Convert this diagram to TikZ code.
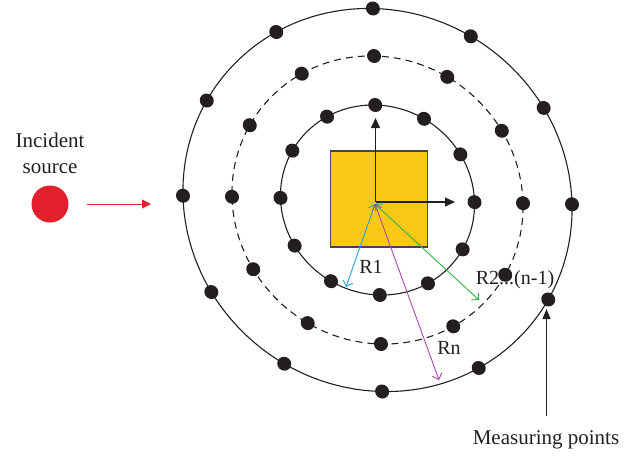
\documentclass[tikz,border=0pt]{standalone}
\usepackage{fontspec}
\setmainfont{Liberation Serif}
\usetikzlibrary{arrows.meta}
\definecolor{srcred}{RGB}{228,32,44}
\definecolor{boxyellow}{RGB}{252,200,22}
\definecolor{boxedge}{RGB}{70,70,70}
\definecolor{rblue}{RGB}{40,160,220}
\definecolor{rgreen}{RGB}{50,175,75}
\definecolor{rpurple}{RGB}{160,75,165}
\definecolor{ink}{RGB}{35,31,32}
\tikzset{
  ring/.style={draw=ink, line width=1.1pt},
  dashring/.style={ring, dash pattern=on 7pt off 5pt},
  mdot/.style={fill=ink},
  axis/.style={draw=ink, line width=1.2pt, -{Triangle[length=10pt,width=9pt]}},
  radius arrow/.style={line width=0.9pt, {Straight Barb[length=5pt,width=10pt]}-{Straight Barb[length=5pt,width=10pt]}},
  lbl/.style={text=ink, font=\fontsize{20}{24}\selectfont, inner sep=0pt},
  bigl/.style={text=ink, font=\fontsize{21}{26}\selectfont, inner sep=0pt, align=center}
}
\begin{document}
\begin{tikzpicture}[x=1pt,y=-1pt]
\useasboundingbox (0,0) rectangle (636,458);
% rings with measuring points (slightly skewed as in the scan)
\begin{scope}[shift={(377.5,200)}, cm={1,-0.022,-0.024,1,(0,0)}]
  \draw[ring] (0,0) ellipse [x radius=194.5pt, y radius=191.5pt];
  \draw[dashring] (0,0) ellipse [x radius=145.5pt, y radius=144pt];
  \draw[ring] (0,0) ellipse [x radius=97pt, y radius=95pt];
\end{scope}
% sample
\node[draw=boxedge, line width=1.3pt, fill=boxyellow, minimum width=97pt, minimum height=96pt, inner sep=0pt] (box) at (379,199) {};
\begin{scope}[shift={(377.5,200)}, cm={1,-0.022,-0.024,1,(0,0)}]
  \foreach \rx/\ry in {194.5/191.5, 145.5/144, 97/95}{
    \foreach \k in {0,...,11}{
      \pgfmathsetmacro{\ang}{90-30*\k}
      \fill[mdot] ({\rx*cos(\ang)},{-\ry*sin(\ang)}) circle[radius=7pt];
    }
  }
\end{scope}
% axes
\coordinate (O) at (375.5,202);
\coordinate (ytip) at (375.5,118);
\coordinate (xtip) at (455,202);
\draw[axis] (O) -- (ytip);
\draw[axis] (O) -- (xtip);
% radii
\coordinate (P) at (375,204);
\coordinate (e1) at (346,287);
\coordinate (e2) at (479,300);
\coordinate (e3) at (439,380);
\draw[radius arrow, draw=rblue] (P) -- (e1);
\draw[radius arrow, draw=rgreen] (P) -- (e2);
\draw[radius arrow, draw=rpurple] (P) -- (e3);
\node[lbl] (l1) at (371,267) {R1};
\node[lbl] (l2) at (515,280) {R2...(n-1)};
\node[lbl] (l3) at (449,348) {Rn};
% source
\node[circle, fill=srcred, minimum size=37pt, inner sep=0pt] (src) at (50,204) {};
\node[bigl] (srclbl) at (50,153) {Incident\\source};
\coordinate (ia) at (87,204);
\coordinate (ib) at (151,204);
\draw[srcred, line width=1pt, -{Triangle[length=9pt,width=9pt]}] (ia) -- (ib);
% measuring points label
\node[bigl] (mp) at (546,440) {Measuring points};
\coordinate (ma) at (546.5,416);
\coordinate (mb) at (546.5,309);
\draw[draw=ink, line width=1.2pt, -{Triangle[length=10pt,width=8pt]}] (ma) -- (mb);
\end{tikzpicture}
\end{document}
